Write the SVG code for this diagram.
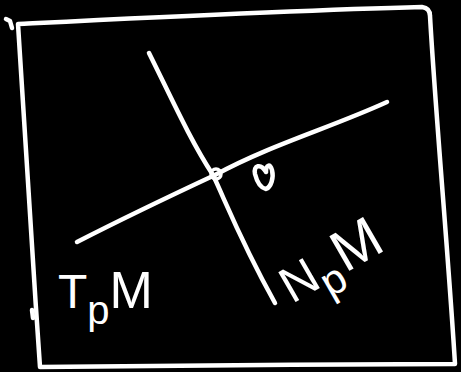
<svg xmlns="http://www.w3.org/2000/svg" width="461" height="372" viewBox="0 0 461 372">
<style>
.s{fill:none;stroke:#fff;stroke-width:4.5;stroke-linecap:round;stroke-linejoin:round}
.t{fill:#fff;font-family:"Liberation Sans",Arial,sans-serif}
</style>
<rect width="461" height="372" fill="#000"/>
<g id="frame">
<path class="s" d="M6,19 L10,21 L12,28"/>
<path class="s" d="M18,24 C140,18 300,10 422,7 Q430,8 430,16 C436,120 448,250 455,364 C320,364 160,366 40,367 C32,250 24,130 18,24"/>
<path class="s" d="M32,310 L33,318"/>
</g>
<g id="connectors">
<path class="s" d="M149,53 C170,95 190,140 213,175 C225,200 240,240 275,303"/>
<path class="s" d="M77,242 C120,220 170,196 215,175 C270,145 330,128 387,102"/>
</g>
<g id="point">
<circle cx="216" cy="174" r="5" fill="none" stroke="#fff" stroke-width="3.5"/>
<path class="s" d="M266,172 C261,163 253,165 255,174 C257,182 261,188 266,189 C271,187 274,178 272,170 C270,163 266,165 266,172" stroke-width="3.5"/>
</g>
<g id="TpM">
<text class="t" x="58" y="308" font-size="48">T<tspan dy="16" font-size="40">p</tspan><tspan dy="-16" font-size="52">M</tspan></text>
</g>
<g id="NpM">
<text class="t" transform="translate(292,304) rotate(-30)" font-size="50">N<tspan dy="14" font-size="42">p</tspan><tspan dy="-14" font-size="58" dx="2">M</tspan></text>
</g>
</svg>
